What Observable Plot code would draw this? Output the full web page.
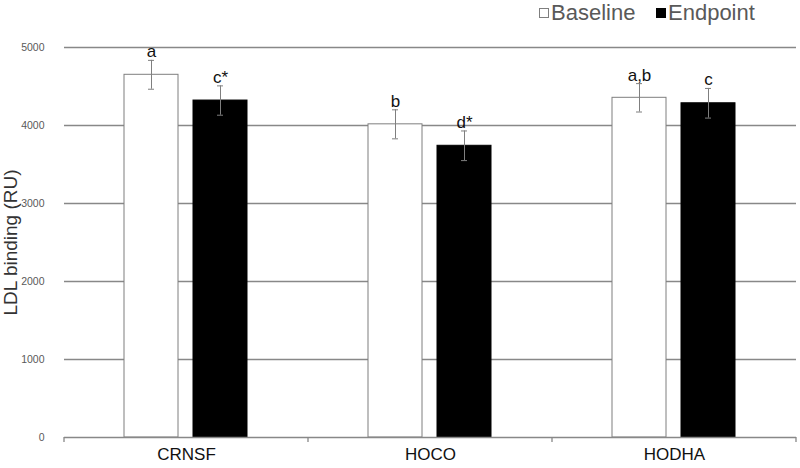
<!DOCTYPE html>
<html>
<head>
<meta charset="utf-8">
<script src="https://cdn.jsdelivr.net/npm/d3@7"></script>
<script src="https://cdn.jsdelivr.net/npm/@observablehq/plot@0.6"></script>
<style>
  html, body { margin: 0; padding: 0; background: #fff; }
  body { width: 800px; height: 468px; overflow: hidden; font-family: "Liberation Sans", Arial, sans-serif; }
  #legend { position: relative; height: 30px; }
  .lg-item { position: absolute; top: 0; display: flex; align-items: center; height: 25px; font-size: 22px; color: #595959; }
  .lg-box { width: 8px; height: 8px; display: inline-block; margin-right: 2px; }
  #chart svg [aria-label^="fx-axis"] text { font-size: 17px; fill: #111; }
  #chart svg [aria-label^="y-axis"] text { font-size: 10.5px; fill: #595959; }
  #chart svg text.ylabel { font-size: 19px !important; fill: #333 !important; }
</style>
</head>
<body>
<div id="legend"></div>
<div id="chart"></div>
<script>
// ---- data ----
const categories = ["CRNSF", "HOCO", "HODHA"];
const series = ["Baseline", "Endpoint"];
const baselineValues = [4650, 4015, 4355];
const endpointValues = [4320, 3740, 4285];
const baselineErrors = [185, 186, 182];
const endpointErrors = [188, 190, 190];
const baselineLetters = ["a", "b", "a,b"];
const endpointLetters = ["c*", "d*", "c"];
const yTicks = [0, 1000, 2000, 3000, 4000, 5000];
const yLabel = "LDL binding (RU)";

const rows = categories.flatMap((cat, i) => [
  {cat, series: series[0], value: baselineValues[i], err: baselineErrors[i], letter: baselineLetters[i]},
  {cat, series: series[1], value: endpointValues[i], err: endpointErrors[i], letter: endpointLetters[i]}
]);

// ---- legend ----
const legend = document.getElementById("legend");
[{name: series[0], left: 539, fill: "#fff", stroke: "#7f7f7f"},
 {name: series[1], left: 656, fill: "#000", stroke: "#000"}].forEach(s => {
  const item = document.createElement("div");
  item.className = "lg-item";
  item.style.left = s.left + "px";
  const box = document.createElement("span");
  box.className = "lg-box";
  box.style.background = s.fill;
  box.style.border = "1px solid " + s.stroke;
  item.appendChild(box);
  item.appendChild(document.createTextNode(s.name));
  legend.appendChild(item);
});

// ---- chart ----
const gridGray = "#888888";
const errGray = "#7f7f7f";
const plot = Plot.plot({
  width: 800,
  height: 438,
  marginLeft: 63,
  marginRight: 3,
  marginTop: 17,
  marginBottom: 31,
  style: {fontFamily: "'Liberation Sans', Arial, sans-serif", color: "#595959", background: "#fff", overflow: "visible"},
  facet: {data: rows, x: "cat"},
  fx: {domain: categories, padding: 0, label: null, tickSize: 0, tickPadding: 10, axis: "bottom"},
  x: {domain: series, paddingInner: 0.214, paddingOuter: 0.855, axis: null},
  y: {domain: [0, 5000], ticks: yTicks, tickFormat: d3.format("d"), tickSize: 0, tickPadding: 20,
      label: yLabel, labelAnchor: "center", labelOffset: 61},
  marks: [
    Plot.ruleY(yTicks.filter(d => d > 0), {stroke: gridGray, strokeWidth: 1.3}),
    Plot.barY(rows, {filter: d => d.series === series[0], x: "series", y: "value", fill: "#fff", stroke: errGray, strokeWidth: 1}),
    Plot.barY(rows, {filter: d => d.series === series[1], x: "series", y: "value", fill: "#000", stroke: "#000"}),
    Plot.ruleX(rows, {x: "series", y1: d => d.value - d.err, y2: d => d.value + d.err, stroke: errGray, strokeWidth: 1}),
    Plot.tickY(rows, {x: "series", y: d => d.value - d.err, stroke: errGray, insetLeft: 24, insetRight: 24}),
    Plot.tickY(rows, {x: "series", y: d => d.value + d.err, stroke: errGray, insetLeft: 24, insetRight: 24}),
    Plot.text(rows, {x: "series", y: d => d.value + d.err, text: "letter", dy: -3, lineAnchor: "bottom", fontSize: 17, fill: "#111"}),
    Plot.ruleY([0], {stroke: gridGray, strokeWidth: 1.3})
  ]
});
document.getElementById("chart").appendChild(plot);

// style the y-axis title (drop the direction arrow Plot appends)
d3.select(plot).selectAll("text").filter(function () { return this.textContent.trim().startsWith(yLabel); })
  .classed("ylabel", true).attr("font-size", 19).text(yLabel);

// boundary ticks on the category axis, from the fx band scale
const fx = plot.scale("fx");
const yS = plot.scale("y");
const y0 = yS.apply(0);
const edges = categories.map(c => fx.apply(c)).concat([fx.apply(categories[categories.length - 1]) + fx.bandwidth]);
d3.select(plot).append("g").attr("aria-label", "category-boundaries")
  .selectAll("line").data(edges).join("line")
  .attr("x1", d => d).attr("x2", d => d)
  .attr("y1", y0).attr("y2", y0 + 5)
  .attr("stroke", gridGray).attr("stroke-width", 1.3);
</script>
</body>
</html>
